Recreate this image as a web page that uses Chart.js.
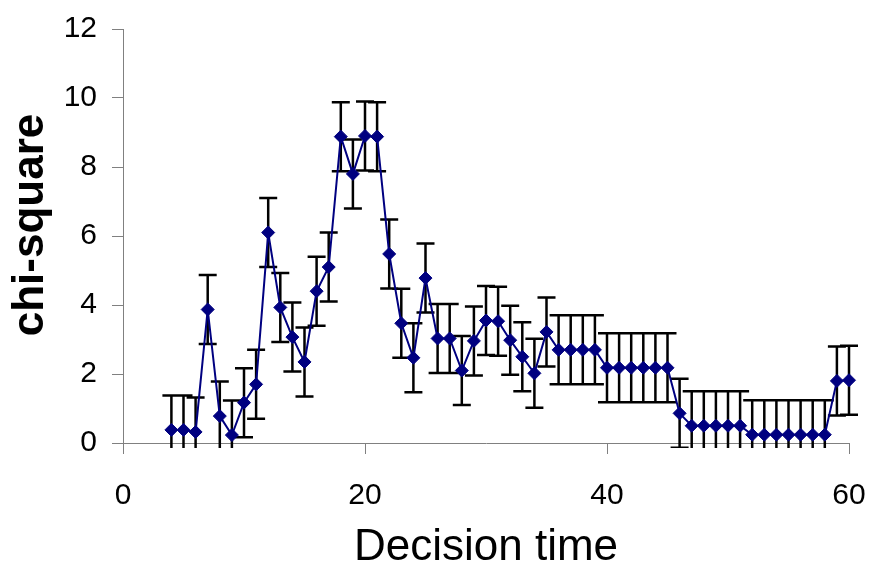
<!DOCTYPE html>
<html>
<head>
<meta charset="utf-8">
<script src="https://cdn.jsdelivr.net/npm/chart.js@4.4.0/dist/chart.umd.min.js"></script>
<style>
  html, body { margin: 0; padding: 0; background: #fff; }
  #wrap { width: 869px; height: 565px; position: relative; }
</style>
</head>
<body>
<div id="wrap"><canvas id="myChart"></canvas></div>
<script>
// decision time (x) and chi-square value per step, with +/- error
const times = [4, 5, 6, 7, 8, 9, 10, 11, 12, 13, 14, 15, 16, 17, 18, 19, 20,
  21, 22, 23, 24, 25, 26, 27, 28, 29, 30, 31, 32, 33, 34, 35, 36, 37, 38, 39, 40,
  41, 42, 43, 44, 45, 46, 47, 48, 49, 50, 51, 52, 53, 54, 55, 56, 57, 58, 59, 60];
const chiSquare = [0.38, 0.38, 0.32, 3.87, 0.78, 0.23, 1.17, 1.70, 6.10, 3.93, 3.07, 2.35, 4.40, 5.10, 8.88, 7.80, 8.90,
  8.88, 5.48, 3.47, 2.47, 4.78, 3.03, 3.03, 2.10, 2.96, 3.55, 3.53, 2.98, 2.50, 2.02, 3.22, 2.70, 2.70, 2.70, 2.70, 2.18,
  2.18, 2.18, 2.18, 2.18, 2.18, 0.86, 0.50, 0.50, 0.50, 0.50, 0.50, 0.24, 0.24, 0.24, 0.24, 0.24, 0.24, 0.24, 1.80, 1.82];
const errors = [1, 1, 1, 1, 1, 1, 1, 1, 1, 1, 1, 1, 1, 1, 1, 1, 1,
  1, 1, 1, 1, 1, 1, 1, 1, 1, 1, 1, 1, 1, 1, 1, 1, 1, 1, 1, 1,
  1, 1, 1, 1, 1, 1, 1, 1, 1, 1, 1, 1, 1, 1, 1, 1, 1, 1, 1, 1];
const xTicks = [0, 20, 40, 60];
const yTicks = [0, 2, 4, 6, 8, 10, 12];

const font = "'Liberation Sans', Arial, sans-serif";
const axisGrey = '#808080';

// black error bars with caps, drawn under the line
const errorBars = {
  id: 'errorBars',
  beforeDatasetsDraw(chart) {
    const { ctx, chartArea, scales: { x, y } } = chart;
    ctx.save();
    ctx.beginPath();
    ctx.rect(chartArea.left - 20, chartArea.top - 20,
      chartArea.right - chartArea.left + 40, chartArea.bottom - chartArea.top + 25);
    ctx.clip();
    ctx.strokeStyle = '#000';
    ctx.lineWidth = 2.5;
    ctx.beginPath();
    times.forEach((t, i) => {
      const px = x.getPixelForValue(t);
      const top = y.getPixelForValue(chiSquare[i] + errors[i]);
      const bot = y.getPixelForValue(chiSquare[i] - errors[i]);
      ctx.moveTo(px, top); ctx.lineTo(px, bot);
      ctx.moveTo(px - 9, top); ctx.lineTo(px + 9, top);
      ctx.moveTo(px - 9, bot); ctx.lineTo(px + 9, bot);
    });
    ctx.stroke();
    ctx.restore();
  }
};

new Chart(document.getElementById('myChart'), {
  type: 'line',
  data: {
    datasets: [{
      data: times.map((t, i) => ({ x: t, y: chiSquare[i] })),
      borderColor: '#000080',
      borderWidth: 2,
      tension: 0,
      pointStyle: 'rectRot',
      pointRadius: 6.5,
      pointBackgroundColor: '#000080',
      pointBorderColor: '#000080',
      pointBorderWidth: 1,
      clip: false
    }]
  },
  options: {
    responsive: true,
    maintainAspectRatio: false,
    animation: false,
    events: [],
    layout: { padding: { top: 29, right: 20, left: 0, bottom: 0 } },
    plugins: { legend: { display: false }, tooltip: { enabled: false } },
    scales: {
      x: {
        type: 'linear',
        min: 0, max: 60,
        afterFit(scale) {
          scale.height = 122;
          scale.paddingLeft = 0;
          scale.paddingRight = 0;
        },
        afterBuildTicks(scale) { scale.ticks = xTicks.map(v => ({ value: v })); },
        grid: { drawOnChartArea: false, tickLength: 11, color: axisGrey, lineWidth: 1 },
        border: { color: axisGrey, width: 1 },
        ticks: { color: '#000', padding: 24, maxRotation: 0, font: { family: font, size: 30 } },
        title: {
          display: true, text: 'Decision time', color: '#000',
          padding: { top: 0, bottom: 0 },
          font: { family: font, size: 44, lineHeight: 0.8 }
        }
      },
      y: {
        min: 0, max: 12,
        afterFit(scale) {
          scale.width = 123;
          scale.paddingTop = 0;
          scale.paddingBottom = 0;
        },
        afterBuildTicks(scale) { scale.ticks = yTicks.map(v => ({ value: v })); },
        grid: { drawOnChartArea: false, tickLength: 11, color: axisGrey, lineWidth: 1 },
        border: { color: axisGrey, width: 1 },
        ticks: { color: '#000', padding: 15, font: { family: font, size: 30 } },
        title: {
          // en space in front lifts the rotated label a little above the axis centre
          display: true, text: '\u2002chi-square', color: '#000',
          padding: { top: 4, bottom: 0 },
          font: { family: font, size: 44, weight: 'bold', lineHeight: 1.2 }
        }
      }
    }
  },
  plugins: [errorBars]
});
</script>
</body>
</html>
